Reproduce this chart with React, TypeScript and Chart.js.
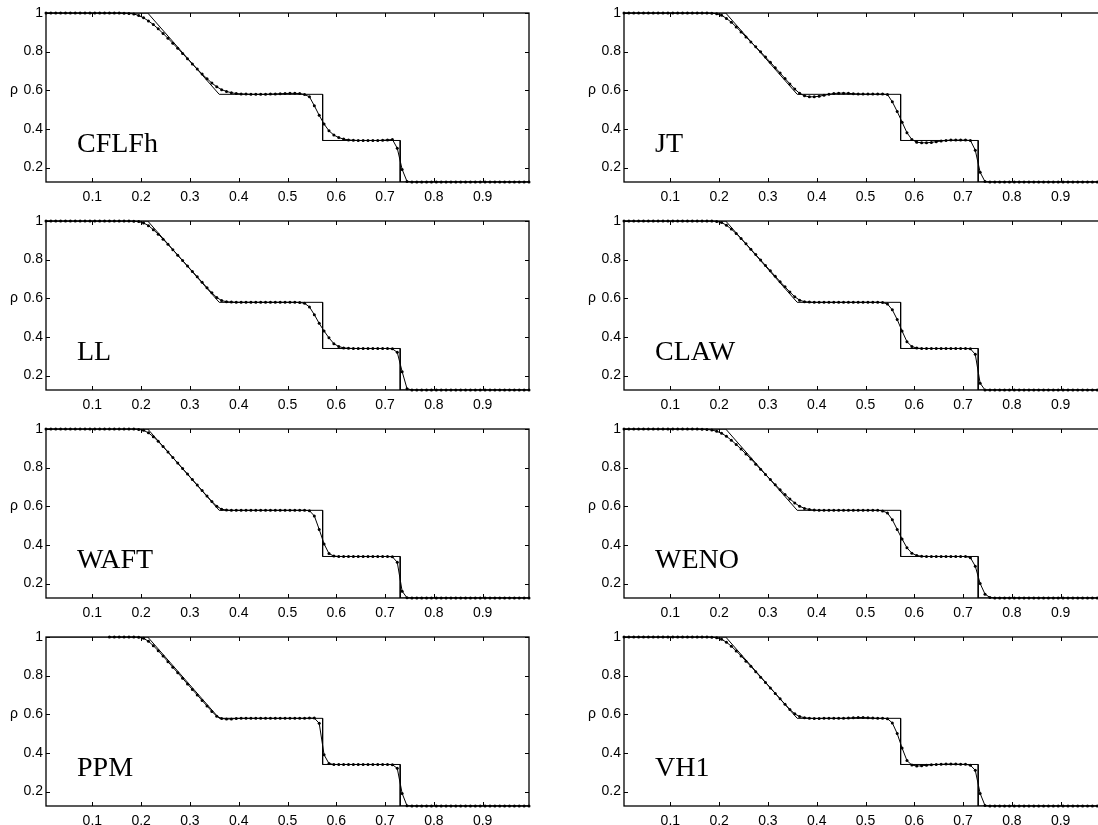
import React, { useEffect, useRef } from "react";
import { Chart, registerables } from "chart.js";

Chart.register(...registerables);

// cell centres of the 100-cell grid
const cellX = [
  0.005, 0.015, 0.025, 0.035, 0.045, 0.055, 0.065, 0.075, 0.085, 0.095,
  0.105, 0.115, 0.125, 0.135, 0.145, 0.155, 0.165, 0.175, 0.185, 0.195,
  0.205, 0.215, 0.225, 0.235, 0.245, 0.255, 0.265, 0.275, 0.285, 0.295,
  0.305, 0.315, 0.325, 0.335, 0.345, 0.355, 0.365, 0.375, 0.385, 0.395,
  0.405, 0.415, 0.425, 0.435, 0.445, 0.455, 0.465, 0.475, 0.485, 0.495,
  0.505, 0.515, 0.525, 0.535, 0.545, 0.555, 0.565, 0.575, 0.585, 0.595,
  0.605, 0.615, 0.625, 0.635, 0.645, 0.655, 0.665, 0.675, 0.685, 0.695,
  0.705, 0.715, 0.725, 0.735, 0.745, 0.755, 0.765, 0.775, 0.785, 0.795,
  0.805, 0.815, 0.825, 0.835, 0.845, 0.855, 0.865, 0.875, 0.885, 0.895,
  0.905, 0.915, 0.925, 0.935, 0.945, 0.955, 0.965, 0.975, 0.985, 0.995,
];

// exact solution
const exactX = [0.005, 0.2135, 0.36, 0.572, 0.572, 0.731, 0.731, 0.995];
const exactRho = [1, 1, 0.579, 0.579, 0.34, 0.34, 0.125, 0.125];

const xTicks = [0.1, 0.2, 0.3, 0.4, 0.5, 0.6, 0.7, 0.8, 0.9];
const yTicks = [0.2, 0.4, 0.6, 0.8, 1];

const rhoCFLFh = [
  1, 1, 1, 1, 1, 1, 1, 1, 1, 1,
  1, 1, 1, 1, 1, 1, 0.999, 0.998, 0.995, 0.987,
  0.975, 0.959, 0.94, 0.918, 0.894, 0.869, 0.843, 0.817, 0.79, 0.763,
  0.736, 0.71, 0.684, 0.66, 0.637, 0.618, 0.603, 0.594, 0.587, 0.583,
  0.581, 0.58, 0.579, 0.579, 0.579, 0.579, 0.58, 0.581, 0.582, 0.583,
  0.584, 0.584, 0.583, 0.578, 0.566, 0.52, 0.47, 0.425, 0.39, 0.368,
  0.355, 0.347, 0.343, 0.341, 0.34, 0.34, 0.34, 0.34, 0.34, 0.341,
  0.343, 0.345, 0.3, 0.19, 0.128, 0.125, 0.125, 0.125, 0.125, 0.125,
  0.125, 0.125, 0.125, 0.125, 0.125, 0.125, 0.125, 0.125, 0.125, 0.125,
  0.125, 0.125, 0.125, 0.125, 0.125, 0.125, 0.125, 0.125, 0.125, 0.125,
];

const rhoJT = [
  1, 1, 1, 1, 1, 1, 1, 1, 1, 1,
  1, 1, 1, 1, 1, 1, 1, 1, 0.999, 0.996,
  0.988, 0.972, 0.952, 0.928, 0.902, 0.876, 0.85, 0.825, 0.799, 0.772,
  0.745, 0.717, 0.689, 0.661, 0.633, 0.606, 0.584, 0.571, 0.566, 0.566,
  0.569, 0.574, 0.579, 0.583, 0.585, 0.585, 0.584, 0.582, 0.581, 0.58,
  0.58, 0.58, 0.58, 0.58, 0.578, 0.54, 0.49, 0.435, 0.38, 0.345,
  0.331, 0.328, 0.328, 0.33, 0.334, 0.337, 0.34, 0.342, 0.342, 0.342,
  0.342, 0.34, 0.29, 0.175, 0.127, 0.125, 0.125, 0.125, 0.125, 0.125,
  0.125, 0.125, 0.125, 0.125, 0.125, 0.125, 0.125, 0.125, 0.125, 0.125,
  0.125, 0.125, 0.125, 0.125, 0.125, 0.125, 0.125, 0.125, 0.125, 0.125,
];

const rhoLL = [
  1, 1, 1, 1, 1, 1, 1, 1, 1, 1,
  1, 1, 1, 1, 1, 1, 1, 1, 0.999, 0.997,
  0.99, 0.976, 0.955, 0.932, 0.906, 0.879, 0.851, 0.823, 0.795, 0.767,
  0.739, 0.711, 0.683, 0.655, 0.628, 0.604, 0.588, 0.582, 0.58, 0.579,
  0.579, 0.579, 0.579, 0.579, 0.579, 0.579, 0.579, 0.579, 0.579, 0.579,
  0.579, 0.579, 0.578, 0.574, 0.555, 0.515, 0.47, 0.43, 0.395, 0.365,
  0.35, 0.343, 0.341, 0.34, 0.34, 0.34, 0.34, 0.34, 0.34, 0.34,
  0.34, 0.338, 0.32, 0.22, 0.132, 0.125, 0.125, 0.125, 0.125, 0.125,
  0.125, 0.125, 0.125, 0.125, 0.125, 0.125, 0.125, 0.125, 0.125, 0.125,
  0.125, 0.125, 0.125, 0.125, 0.125, 0.125, 0.125, 0.125, 0.125, 0.125,
];

const rhoCLAW = [
  1, 1, 1, 1, 1, 1, 1, 1, 1, 1,
  1, 1, 1, 1, 1, 1, 1, 1, 1, 0.998,
  0.992, 0.978, 0.958, 0.935, 0.909, 0.882, 0.854, 0.826, 0.798, 0.77,
  0.742, 0.714, 0.686, 0.659, 0.632, 0.608, 0.59, 0.582, 0.58, 0.579,
  0.579, 0.579, 0.579, 0.579, 0.579, 0.579, 0.579, 0.579, 0.579, 0.579,
  0.579, 0.579, 0.579, 0.578, 0.57, 0.54, 0.49, 0.43, 0.375, 0.35,
  0.342, 0.34, 0.34, 0.34, 0.34, 0.34, 0.34, 0.34, 0.34, 0.34,
  0.34, 0.338, 0.31, 0.16, 0.125, 0.125, 0.125, 0.125, 0.125, 0.125,
  0.125, 0.125, 0.125, 0.125, 0.125, 0.125, 0.125, 0.125, 0.125, 0.125,
  0.125, 0.125, 0.125, 0.125, 0.125, 0.125, 0.125, 0.125, 0.125, 0.125,
];

const rhoWAFT = [
  1, 1, 1, 1, 1, 1, 1, 1, 1, 1,
  1, 1, 1, 1, 1, 1, 1, 1, 1, 0.998,
  0.993, 0.98, 0.96, 0.936, 0.909, 0.881, 0.852, 0.824, 0.795, 0.767,
  0.738, 0.71, 0.681, 0.653, 0.625, 0.6, 0.585, 0.58, 0.579, 0.579,
  0.579, 0.579, 0.579, 0.579, 0.579, 0.579, 0.579, 0.579, 0.579, 0.579,
  0.579, 0.579, 0.579, 0.579, 0.577, 0.55, 0.48, 0.405, 0.355, 0.342,
  0.34, 0.34, 0.34, 0.34, 0.34, 0.34, 0.34, 0.34, 0.34, 0.34,
  0.34, 0.338, 0.31, 0.16, 0.126, 0.125, 0.125, 0.125, 0.125, 0.125,
  0.125, 0.125, 0.125, 0.125, 0.125, 0.125, 0.125, 0.125, 0.125, 0.125,
  0.125, 0.125, 0.125, 0.125, 0.125, 0.125, 0.125, 0.125, 0.125, 0.125,
];

const rhoWENO = [
  1, 1, 1, 1, 1, 1, 1, 1, 1, 1,
  1, 1, 1, 1, 1, 1, 0.999, 0.998, 0.995, 0.988,
  0.978, 0.962, 0.942, 0.92, 0.896, 0.871, 0.845, 0.818, 0.791, 0.764,
  0.738, 0.712, 0.686, 0.661, 0.638, 0.617, 0.6, 0.589, 0.583, 0.58,
  0.579, 0.579, 0.579, 0.579, 0.579, 0.579, 0.579, 0.579, 0.579, 0.579,
  0.579, 0.579, 0.579, 0.576, 0.565, 0.53, 0.48, 0.43, 0.385, 0.357,
  0.345, 0.341, 0.34, 0.34, 0.34, 0.34, 0.34, 0.34, 0.34, 0.34,
  0.34, 0.334, 0.29, 0.2, 0.145, 0.128, 0.125, 0.125, 0.125, 0.125,
  0.125, 0.125, 0.125, 0.125, 0.125, 0.125, 0.125, 0.125, 0.125, 0.125,
  0.125, 0.125, 0.125, 0.125, 0.125, 0.125, 0.125, 0.125, 0.125, 0.125,
];

const rhoPPM = [
  null, null, null, null, null, null, null, null, null, null,
  null, null, null, 1, 1, 1, 1, 1, 1, 0.999,
  0.993, 0.978, 0.955, 0.929, 0.901, 0.872, 0.843, 0.815, 0.786, 0.757,
  0.728, 0.7, 0.671, 0.643, 0.614, 0.59, 0.578, 0.575, 0.576, 0.578,
  0.579, 0.579, 0.579, 0.579, 0.579, 0.579, 0.579, 0.579, 0.579, 0.579,
  0.579, 0.579, 0.579, 0.579, 0.58, 0.58, 0.553, 0.39, 0.345, 0.34,
  0.34, 0.34, 0.34, 0.34, 0.34, 0.34, 0.34, 0.34, 0.34, 0.34,
  0.34, 0.339, 0.32, 0.19, 0.126, 0.125, 0.125, 0.125, 0.125, 0.125,
  0.125, 0.125, 0.125, 0.125, 0.125, 0.125, 0.125, 0.125, 0.125, 0.125,
  0.125, 0.125, 0.125, 0.125, 0.125, 0.125, 0.125, 0.125, 0.125, 0.125,
];

const rhoVH1 = [
  1, 1, 1, 1, 1, 1, 1, 1, 1, 1,
  1, 1, 1, 1, 1, 1, 1, 1, 0.999, 0.996,
  0.988, 0.973, 0.952, 0.928, 0.902, 0.875, 0.848, 0.82, 0.792, 0.764,
  0.736, 0.708, 0.68, 0.652, 0.625, 0.602, 0.588, 0.582, 0.579, 0.578,
  0.578, 0.579, 0.579, 0.579, 0.579, 0.579, 0.58, 0.582, 0.583, 0.583,
  0.582, 0.58, 0.579, 0.579, 0.577, 0.555, 0.5, 0.425, 0.36, 0.337,
  0.332, 0.333, 0.336, 0.338, 0.34, 0.341, 0.342, 0.342, 0.342, 0.341,
  0.341, 0.336, 0.31, 0.19, 0.127, 0.125, 0.125, 0.125, 0.125, 0.125,
  0.125, 0.125, 0.125, 0.125, 0.125, 0.125, 0.125, 0.125, 0.125, 0.125,
  0.125, 0.125, 0.125, 0.125, 0.125, 0.125, 0.125, 0.125, 0.125, 0.125,
];

const panelNames = ["CFLFh", "JT", "LL", "CLAW", "WAFT", "WENO", "PPM", "VH1"];
const panelRho = [rhoCFLFh, rhoJT, rhoLL, rhoCLAW, rhoWAFT, rhoWENO, rhoPPM, rhoVH1];

const CW = 539;
const CH = 207;
const SANS = '"Liberation Sans", Arial, Helvetica, sans-serif';

function fmt(v: number) {
  return v === 1 ? "1" : v.toFixed(1);
}

function makeFramePlugin(name: string) {
  return {
    id: "frame",
    afterDatasetsDraw(chart: any) {
      const { ctx, chartArea: a, scales } = chart;
      const xs = scales.x;
      const ys = scales.y;
      ctx.save();
      ctx.strokeStyle = "#000";
      ctx.lineWidth = 1.3;
      ctx.strokeRect(a.left, a.top, a.right - a.left, a.bottom - a.top);
      ctx.lineWidth = 1;
      ctx.beginPath();
      const tl = 4;
      xTicks.forEach((v) => {
        const px = Math.round(xs.getPixelForValue(v)) + 0.5;
        ctx.moveTo(px, a.bottom);
        ctx.lineTo(px, a.bottom - tl);
        ctx.moveTo(px, a.top);
        ctx.lineTo(px, a.top + tl);
      });
      yTicks.forEach((v) => {
        const py = Math.round(ys.getPixelForValue(v)) + 0.5;
        ctx.moveTo(a.left, py);
        ctx.lineTo(a.left + tl, py);
        ctx.moveTo(a.right, py);
        ctx.lineTo(a.right - tl, py);
      });
      ctx.stroke();
      ctx.fillStyle = "#000";
      ctx.font = "14px " + SANS;
      ctx.textAlign = "left";
      ctx.textBaseline = "alphabetic";
      ctx.fillText("ρ", a.left - 36, a.top + 81);
      ctx.font = '28px "Liberation Serif", "Times New Roman", serif';
      ctx.fillText(name, a.left + 31, a.top + 139);
      ctx.restore();
    },
  };
}

function Panel({ name, rho, left, top }: { name: string; rho: (number | null)[]; left: number; top: number }) {
  const ref = useRef<HTMLCanvasElement>(null);
  useEffect(() => {
    const canvas = ref.current;
    if (!canvas) return;
    const chart = new Chart(canvas, {
      type: "line",
      data: {
        datasets: [
          {
            data: cellX.map((x, i) => ({ x, y: rho[i] })) as any,
            borderColor: "#000",
            borderWidth: 1,
            pointRadius: 1.5,
            pointBackgroundColor: "#000",
            pointBorderWidth: 0,
            pointHoverRadius: 0,
            clip: false as any,
            tension: 0,
          },
          {
            data: exactX.map((x, i) => ({ x, y: exactRho[i] })) as any,
            borderColor: "#000",
            borderWidth: 1,
            pointRadius: 0,
            pointHoverRadius: 0,
            tension: 0,
          },
        ],
      },
      options: {
        responsive: false,
        animation: false,
        events: [],
        layout: { padding: { top: 12, right: 10, bottom: 0, left: 0 } },
        plugins: { legend: { display: false }, tooltip: { enabled: false } },
        scales: {
          x: {
            type: "linear",
            min: 0.005,
            max: 0.995,
            grid: { display: false, drawTicks: false },
            border: { display: false },
            afterBuildTicks: (s: any) => {
              s.ticks = xTicks.map((v) => ({ value: v }));
            },
            afterFit: (s: any) => {
              s.height = 26;
            },
            ticks: {
              padding: 7,
              color: "#000",
              maxRotation: 0,
              autoSkip: false,
              font: { family: SANS, size: 14 },
              callback: (v: any) => fmt(Number(v)),
            },
          },
          y: {
            type: "linear",
            min: 0.125,
            max: 1,
            grid: { display: false, drawTicks: false },
            border: { display: false },
            afterBuildTicks: (s: any) => {
              s.ticks = yTicks.map((v) => ({ value: v }));
            },
            afterFit: (s: any) => {
              s.width = 46;
            },
            ticks: {
              padding: 3,
              color: "#000",
              autoSkip: false,
              font: { family: SANS, size: 14 },
              callback: (v: any) => fmt(Number(v)),
            },
          },
        },
      } as any,
      plugins: [makeFramePlugin(name)],
    });
    return () => chart.destroy();
  }, [name, rho]);
  return (
    <canvas
      ref={ref}
      width={CW}
      height={CH}
      style={{ position: "absolute", left, top, width: CW, height: CH, display: "block" }}
    />
  );
}

export default function App() {
  return (
    <div
      style={{
        position: "absolute",
        left: 0,
        top: 0,
        width: 1098,
        height: 825,
        overflow: "hidden",
        background: "#fff",
      }}
    >
      {panelNames.map((name, i) => {
        const col = i % 2;
        const row = Math.floor(i / 2);
        return (
          <Panel
            key={name}
            name={name}
            rho={panelRho[i]}
            left={col === 0 ? 0 : 578}
            top={1 + 208 * row}
          />
        );
      })}
    </div>
  );
}
